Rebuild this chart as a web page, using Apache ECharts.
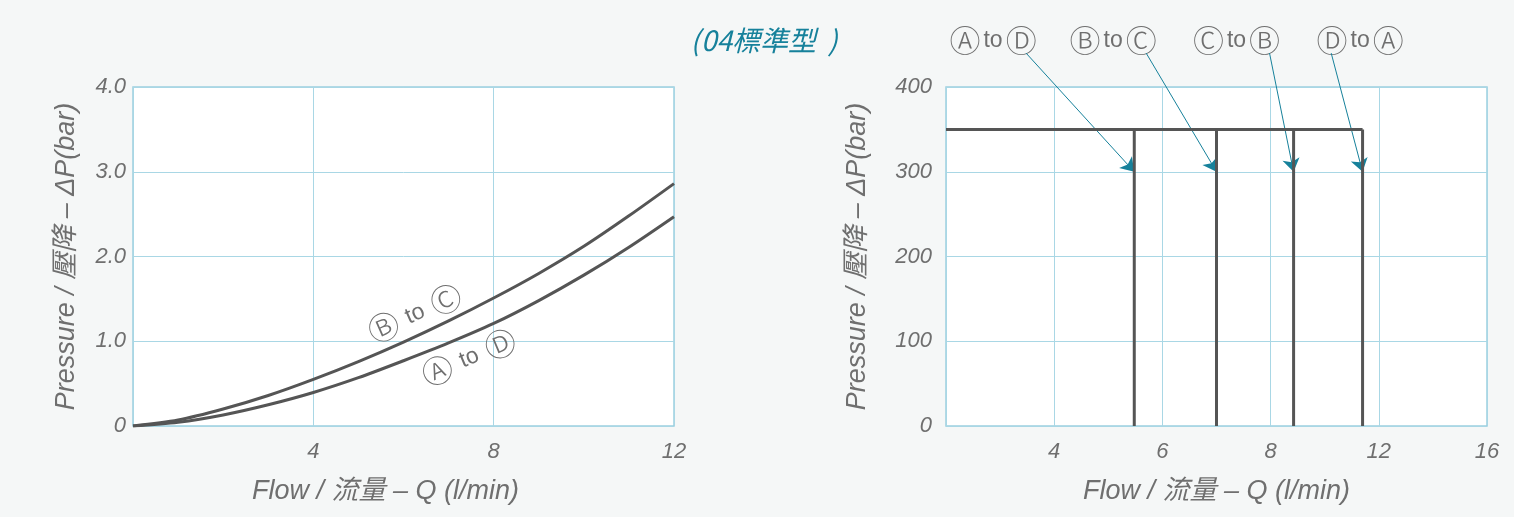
<!DOCTYPE html>
<html>
<head>
<meta charset="utf-8">
<script src="https://cdn.jsdelivr.net/npm/echarts@6/dist/echarts.min.js"></script>
<style>
  html, body { margin: 0; padding: 0; background: #f5f7f7; }
  #chart { width: 1514px; height: 517px; }
</style>
</head>
<body>
<div id="chart"></div>
<script>
// 左圖：壓降曲線
var flowPts = [0, 1, 2, 3, 4, 5, 6, 7, 8, 9, 10, 11, 12];
var dropBtoC = [0, 0.07, 0.20, 0.36, 0.55, 0.76, 0.99, 1.24, 1.51, 1.80, 2.12, 2.48, 2.86];
var dropAtoD = [0, 0.044, 0.13, 0.25, 0.395, 0.57, 0.77, 0.98, 1.21, 1.48, 1.78, 2.11, 2.47];

// 右圖：切換流量
var flowTicks = [2, 4, 6, 8, 12, 16];
var tickLabels = ['', '4', '6', '8', '12', '16'];
var switchFlows = [5.48, 7.0, 8.85, 11.4];
var crackPressure = 350;
var arrowTailFlows = [3.48, 5.7, 7.98, 10.24];
var arrowTipPressure = 300;
var arrowTailPressure = 440;
var portLabels = [['Ⓐ', 'Ⓓ'], ['Ⓑ', 'Ⓒ'], ['Ⓒ', 'Ⓑ'], ['Ⓓ', 'Ⓐ']];
var tailUnder = [1, 1, 1, 0]; // 箭頭從哪個圓圈字下面出來

var grey = '#6f6f6f', teal = '#16819b';
var txt = { color: grey, fontSize: 22, fontStyle: 'italic', fontFamily: 'Liberation Sans, Noto Sans CJK TC' };
var nameTxt = { color: grey, fontSize: 27, fontStyle: 'italic', fontFamily: 'Liberation Sans, Noto Sans CJK TC' };

// 不等距的 x 軸：流量 -> 刻度位置
function pos(f) {
  for (var i = 0; i < flowTicks.length - 1; i++) {
    if (f <= flowTicks[i + 1]) {
      return i + (f - flowTicks[i]) / (flowTicks[i + 1] - flowTicks[i]);
    }
  }
  return flowTicks.length - 1;
}

var pair = function (xs, ys) {
  return xs.map(function (x, i) { return [x, ys[i]]; });
};

var gridStyle = { show: true, backgroundColor: '#fff', borderColor: '#9ccfe0', borderWidth: 1.5 };
var splitStyle = { show: true, lineStyle: { color: '#a9d7e5', width: 1 } };

var series = [
  { type: 'line', xAxisIndex: 0, yAxisIndex: 0, data: pair(flowPts, dropBtoC), smooth: 0.3,
    symbol: 'none', lineStyle: { color: '#555', width: 3 } },
  { type: 'line', xAxisIndex: 0, yAxisIndex: 0, data: pair(flowPts, dropAtoD), smooth: 0.3,
    symbol: 'none', lineStyle: { color: '#555', width: 3 } },
  { type: 'line', xAxisIndex: 1, yAxisIndex: 1, symbol: 'none',
    data: [[0, crackPressure], [pos(Math.max.apply(null, switchFlows)), crackPressure]],
    lineStyle: { color: '#555', width: 3 } }
];
switchFlows.forEach(function (f) {
  series.push({ type: 'line', xAxisIndex: 1, yAxisIndex: 1, symbol: 'none',
    data: [[pos(f), 0], [pos(f), crackPressure]], lineStyle: { color: '#555', width: 3 } });
});
series.push({
  type: 'lines', coordinateSystem: 'cartesian2d', xAxisIndex: 1, yAxisIndex: 1, clip: false,
  symbol: ['none', 'arrow'], symbolSize: [0, 13],
  lineStyle: { color: teal, width: 1, opacity: 1 },
  data: switchFlows.map(function (f, i) {
    return { coords: [[pos(arrowTailFlows[i]), arrowTailPressure], [pos(f), arrowTipPressure]] };
  })
});

var chart = echarts.init(document.getElementById('chart'));
chart.setOption({
  backgroundColor: '#f5f7f7',
  animation: false,
  grid: [
    Object.assign({ left: 133, top: 87, width: 541, height: 339 }, gridStyle),
    Object.assign({ left: 946, top: 87, width: 541, height: 339 }, gridStyle)
  ],
  xAxis: [
    { type: 'value', gridIndex: 0, min: 0, max: 12, interval: 4,
      name: 'Flow / 流量 – Q (l/min)', nameLocation: 'middle', nameGap: 52,
      nameTextStyle: Object.assign({ padding: [0, 36, 0, 0] }, nameTxt),
      axisLine: { show: false }, axisTick: { show: false }, splitLine: splitStyle,
      axisLabel: Object.assign({ margin: 15, formatter: function (v) { return v === 0 ? '' : v; } }, txt) },
    { type: 'value', gridIndex: 1, min: 0, max: 5, interval: 1,
      name: 'Flow / 流量 – Q (l/min)', nameLocation: 'middle', nameGap: 52, nameTextStyle: nameTxt,
      axisLine: { show: false }, axisTick: { show: false }, splitLine: splitStyle,
      axisLabel: Object.assign({ margin: 15, formatter: function (v) { return tickLabels[Math.round(v)]; } }, txt) }
  ],
  yAxis: [
    { type: 'value', gridIndex: 0, min: 0, max: 4, interval: 1,
      name: 'Pressure / 壓降 – ΔP(bar)', nameLocation: 'middle', nameGap: 53, nameRotate: 90, nameTextStyle: nameTxt,
      axisLine: { show: false }, axisTick: { show: false }, splitLine: splitStyle,
      axisLabel: Object.assign({ margin: 7, formatter: function (v) { return v === 0 ? '0' : v.toFixed(1); } }, txt) },
    { type: 'value', gridIndex: 1, min: 0, max: 400, interval: 100,
      name: 'Pressure / 壓降 – ΔP(bar)', nameLocation: 'middle', nameGap: 75, nameRotate: 90, nameTextStyle: nameTxt,
      axisLine: { show: false }, axisTick: { show: false }, splitLine: splitStyle,
      axisLabel: Object.assign({ margin: 14 }, txt) }
  ],
  series: series
});

// 文字標註
function richFor(gap) {
  return {
    c: { fontSize: 31, fill: grey, fontFamily: 'Noto Sans CJK JP', fontWeight: 300 },
    t: { fontSize: 23, fill: grey, fontFamily: 'Liberation Sans', padding: [2, gap, 0, gap] }
  };
}
function portText(p) { return '{c|' + p[0] + '}{t|to}{c|' + p[1] + '}'; }

var titleFont = { fill: teal, fontSize: 28, fontStyle: 'italic', fontFamily: 'Noto Sans CJK TC' };
var gfx = [{
  type: 'text', x: 764, y: 40,
  style: {
    text: '{l|(}{m|04標準型}{r|)}', align: 'center', verticalAlign: 'middle',
    rich: {
      l: Object.assign({ padding: [0, 1, 0, 0] }, titleFont),
      m: titleFont,
      r: Object.assign({ padding: [0, 0, 0, 12] }, titleFont)
    }
  }
}];

var curveNotes = [
  { p: ['Ⓑ', 'Ⓒ'], at: [6.25, 1.33], rot: 0.42 },
  { p: ['Ⓐ', 'Ⓓ'], at: [7.45, 0.81], rot: 0.40 }
];
curveNotes.forEach(function (n) {
  var xy = chart.convertToPixel({ gridIndex: 0 }, n.at);
  gfx.push({ type: 'text', x: xy[0], y: xy[1], rotation: n.rot,
    style: { text: portText(n.p), rich: richFor(9), align: 'center', verticalAlign: 'middle' } });
});

portLabels.forEach(function (p, i) {
  var xy = chart.convertToPixel({ gridIndex: 1 }, [pos(arrowTailFlows[i]), arrowTailPressure]);
  var cx = tailUnder[i] === 1 ? xy[0] - 33 : xy[0] + 29;
  gfx.push({ type: 'text', x: cx, y: 40,
    style: { text: portText(p), rich: richFor(3), align: 'center', verticalAlign: 'middle' } });
});
chart.setOption({ graphic: gfx });
</script>
</body>
</html>
